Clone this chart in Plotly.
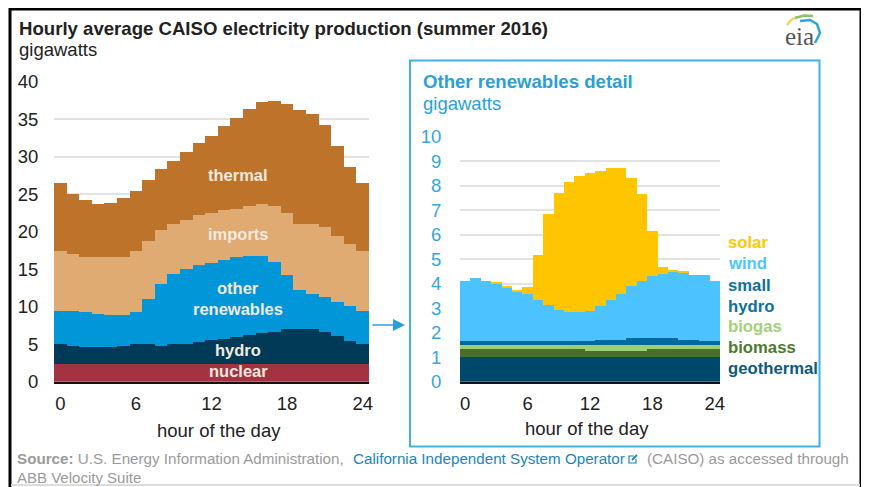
import plotly.graph_objects as go

# The page body has an 8 px margin, so the figure is sized and offset to land on the window.
OFF = 8
W, H = 869 - OFF, 487 - OFF
FONT = "Liberation Sans"

hours = list(range(25))
x_ticks = [0, 6, 12, 18, 24]

# Left panel, gigawatts
nuclear = [2.4] * 25
hydro = [2.6, 2.4, 2.2, 2.2, 2.2, 2.4, 2.6, 2.6, 2.4, 2.6, 2.6, 2.9, 3.1, 3.3, 3.5, 3.8, 4.1, 4.3, 4.6, 4.6, 4.6, 4.3, 3.7, 3.0, 2.6]
other_renewables = [4.5, 4.7, 4.7, 4.5, 4.3, 4.1, 4.3, 6.1, 8.3, 9.4, 10.0, 10.3, 10.3, 10.5, 10.7, 10.6, 10.3, 9.3, 7.2, 5.3, 4.7, 4.6, 4.6, 4.7, 4.5]
imports = [7.9, 7.5, 7.4, 7.5, 7.7, 7.8, 8.1, 7.7, 7.1, 6.7, 6.6, 6.7, 6.7, 6.7, 6.5, 6.7, 6.9, 7.5, 8.3, 8.8, 9.4, 9.4, 8.7, 8.3, 7.9]
thermal = [9.1, 8.1, 7.6, 7.1, 7.3, 7.8, 8.1, 8.1, 8.2, 8.35, 9.0, 9.5, 10.3, 11.2, 12.15, 12.9, 13.6, 14.0, 14.6, 15.15, 14.65, 13.55, 12.0, 10.2, 9.1]

# Right panel, gigawatts
geothermal = [1.03] * 25
biomass = [0.31] * 12 + [0.25] * 6 + [0.31] * 7
biogas = [0.18] * 12 + [0.24] * 6 + [0.18] * 7
small_hydro = [0.14] * 13 + [0.21] * 3 + [0.26] * 5 + [0.21] * 2 + [0.14] * 2
wind = [2.48, 2.60, 2.48, 2.35, 2.19, 2.05, 1.93, 1.67, 1.47, 1.29, 1.18, 1.18, 1.24, 1.36, 1.60, 1.86, 2.12, 2.36, 2.53, 2.62, 2.74, 2.72, 2.65, 2.72, 2.48]
solar = [0, 0, 0, 0.06, 0.05, 0.06, 0.29, 1.87, 3.74, 4.78, 5.32, 5.57, 5.63, 5.52, 5.39, 5.13, 4.44, 3.52, 1.87, 0.29, 0.05, 0.05, 0, 0, 0]

left_series = [("nuclear", nuclear, "#a33342"), ("hydro", hydro, "#003a56"),
               ("other renewables", other_renewables, "#0096d7"),
               ("imports", imports, "#e0aa73"), ("thermal", thermal, "#bd732a")]
right_series = [("geothermal", geothermal, "#00486b"), ("biomass", biomass, "#4a6f2a"),
                ("biogas", biogas, "#9bcf7a"), ("small hydro", small_hydro, "#006a9e"),
                ("wind", wind, "#4cc3ff"), ("solar", solar, "#ffc600")]

fig = go.Figure()
for name, vals, col in left_series:
    fig.add_bar(x=hours, y=vals, name=name, marker=dict(color=col, line_width=0), width=1, xaxis="x", yaxis="y")
for name, vals, col in right_series:
    fig.add_bar(x=hours, y=vals, name=name, marker=dict(color=col, line_width=0), width=1, xaxis="x2", yaxis="y2")


def px(v):
    return (v - OFF) / W


def py(v):
    return 1 - (v - OFF) / H


def text(x, y, s, size, color, bold=False, anchor="left", family=FONT):
    fig.add_annotation(x=px(x), y=py(y), xref="paper", yref="paper", text=f"<b>{s}</b>" if bold else s,
                       showarrow=False, xanchor=anchor, yanchor="middle",
                       font=dict(family=family, size=size, color=color), borderpad=0, borderwidth=0)


DARK = "#222222"
BLUE = "#2a9fd8"
GREY = "#9a9a9a"
LINK = "#1f83bd"

text(19, 28, "Hourly average CAISO electricity production (summer 2016)", 18.6, DARK, True)
text(19, 50, "gigawatts", 18.5, DARK)
text(423, 81, "Other renewables detail", 18.6, BLUE, True)
text(423, 104, "gigawatts", 18.5, BLUE)
text(219, 430, "hour of the day", 18.5, DARK, False, "center")
text(587, 428, "hour of the day", 18.5, DARK, False, "center")

LBL = "#f3e9df"
for x, y, s in [(238, 175, "thermal"), (238, 234, "imports"), (238, 288, "other"),
                (238, 309, "renewables"), (238, 350, "hydro"), (238, 371, "nuclear")]:
    text(x, y, s, 16.5, LBL, True, "center")

for y, s, c in [(242, "solar", "#ffc800"), (264, "wind", "#4dc6ff"), (285, "small", "#0f6f9f"),
                (306, "hydro", "#0f6f9f"), (326, "biogas", "#a3d17a"), (347, "biomass", "#4e7a30"),
                (368, "geothermal", "#0d5a80")]:
    text(728, y, s, 16.7, c, True)

text(17, 458, "<b>Source:</b> U.S. Energy Information Administration,", 15.2, GREY)
text(353, 458, "California Independent System Operator", 15.2, LINK)
text(647, 458, "(CAISO) as accessed through", 15.2, GREY)
text(17, 477, "ABB Velocity Suite", 15, GREY)
text(799, 37, "eia", 25, "#555555", False, "center", "Liberation Serif")

fig.add_annotation(x=px(405), y=py(325), ax=-34, ay=0, xref="paper", yref="paper", axref="pixel", ayref="pixel",
                   text="", showarrow=True, arrowhead=2, arrowsize=1.6, arrowwidth=1.5, arrowcolor=BLUE)


def rect(x0, y0, x1, y1, color, width):
    return dict(type="rect", xref="paper", yref="paper", x0=px(x0), x1=px(x1), y0=py(y0), y1=py(y1),
                line=dict(color=color, width=width), fillcolor="rgba(0,0,0,0)", layer="above")


def path(points, color, width=2.5):
    d = "M" + " L".join(f"{px(a):.5f},{py(b):.5f}" for a, b in points)
    return dict(type="path", xref="paper", yref="paper", path=d, line=dict(color=color, width=width), layer="above")


shapes = [
    path([(10, 487), (10, 9), (861, 9), (861, 487)], "#000000", 3),
    path([(11, 485), (860, 485)], "#dddddd", 2),
    rect(410, 60.5, 819.5, 446.5, "#3fb1e3", 2),
    path([(787, 25), (791, 20), (797, 17)], "#f4d35e", 2.5),
    path([(795, 18), (804, 15.5), (813, 16)], "#8cc26b", 2.5),
    path([(800, 21), (810, 20), (817, 24), (820, 33), (815, 43)], "#2fa4dc", 2.5),
    path([(634, 456), (629, 456), (629, 463), (636, 463), (636, 459)], LINK, 1.2),
    path([(632, 460), (637, 455)], LINK, 1.8),
]

axis_font = dict(family=FONT, size=18.5, color=DARK)
fig.update_layout(
    width=W, height=H, margin=dict(l=0, r=0, t=0, b=0, autoexpand=False), autosize=False,
    paper_bgcolor="white", plot_bgcolor="white", barmode="stack", bargap=0, showlegend=False,
    shapes=shapes,
    xaxis=dict(domain=[px(54), px(369)], range=[-0.5, 24.5], tickvals=x_ticks, ticks="outside", ticklen=4,
               tickcolor="rgba(0,0,0,0)", showgrid=False, zeroline=False, showline=True, linecolor="#111111", linewidth=1.5,
               tickfont=axis_font, fixedrange=True),
    yaxis=dict(domain=[py(381.7), py(82)], range=[0, 40], tickvals=list(range(0, 41, 5)), ticks="outside", ticklen=11,
               tickcolor="rgba(0,0,0,0)", gridcolor="#e2e2e2", gridwidth=1.5, zeroline=False, showline=False,
               tickfont=axis_font, fixedrange=True),
    xaxis2=dict(domain=[px(460), px(720)], range=[-0.5, 24.5], tickvals=x_ticks, ticks="outside", ticklen=4,
                tickcolor="rgba(0,0,0,0)", showgrid=False, zeroline=False, showline=True, linecolor="#111111", linewidth=1.5,
                tickfont=axis_font, anchor="y2", fixedrange=True),
    yaxis2=dict(domain=[py(381.7), py(136.7)], range=[0, 10], tickvals=list(range(0, 11)), ticks="outside", ticklen=14,
                tickcolor="rgba(0,0,0,0)", gridcolor="#e2e2e2", gridwidth=1.5, zeroline=False, showline=False,
                tickfont=dict(family=FONT, size=18.5, color="#35a6de"), anchor="x2", fixedrange=True),
)

fig.write_html("out.html", config=dict(displayModeBar=False))
